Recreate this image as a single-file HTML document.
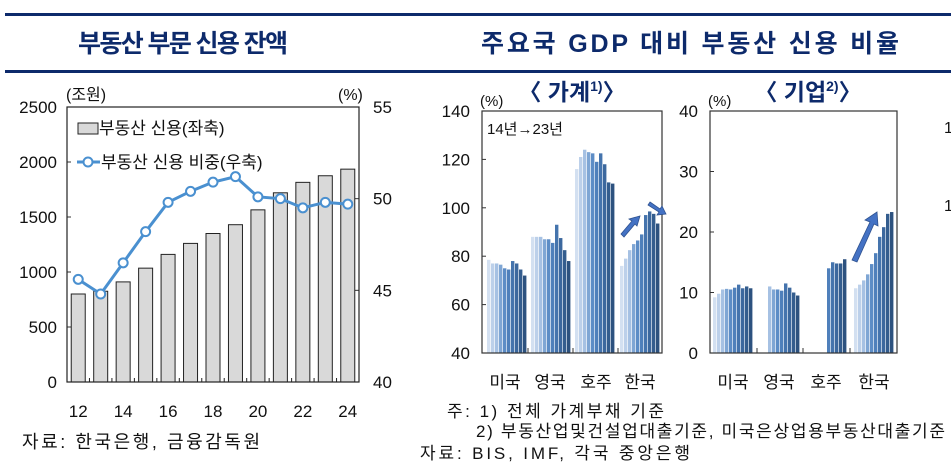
<!DOCTYPE html>
<html><head><meta charset="utf-8">
<style>
html,body{margin:0;padding:0;background:#fff;}
svg{display:block;font-family:"Liberation Sans","Noto Sans CJK KR",sans-serif;}
</style></head>
<body>
<svg id="chart" width="951" height="470" viewBox="0 0 951 470" xmlns="http://www.w3.org/2000/svg">
<rect x="5" y="13" width="946" height="3" fill="#0d2a6b"/>
<rect x="5" y="70" width="946" height="3" fill="#0d2a6b"/>
<text x="183" y="52" text-anchor="middle" font-size="25" font-weight="bold" fill="#0d2a6b" textLength="210">부동산 부문 신용 잔액</text>
<text x="690" y="52" text-anchor="middle" font-size="25" font-weight="bold" fill="#0d2a6b" textLength="418">주요국 GDP 대비 부동산 신용 비율</text>
<g id="left"></g>
<g id="mid"></g>
<g id="right"></g>
<text x="22" y="448" font-size="18" fill="#111" textLength="238">자료: 한국은행, 금융감독원</text>
<text x="447" y="417" font-size="17" fill="#111" textLength="217">주: 1) 전체 가계부채 기준</text>
<text x="476" y="437" font-size="17" fill="#111" textLength="469">2) 부동산업및건설업대출기준, 미국은상업용부동산대출기준</text>
<text x="420" y="459" font-size="17" fill="#111" textLength="270">자료: BIS, IMF, 각국 중앙은행</text>
</svg>
<script>
const years = [12,13,14,15,16,17,18,19,20,21,22,23,24];
const creditValues = [800,825,910,1035,1160,1260,1350,1430,1565,1720,1815,1875,1935];
const shareValues = [45.6,44.8,46.5,48.2,49.8,50.4,50.9,51.2,50.1,50.0,49.5,49.8,49.7];
const leftTicks = [0,500,1000,1500,2000,2500];
const rightTicks = [40,45,50,55];
const countries = ["미국","영국","호주","한국"];
const hhUS = [78.5,77,77,76.5,75,74.5,78,77,74.5,72];
const hhUK = [88,88,88,87,87,85.5,93,87.5,82.5,78];
const hhAU = [116,121,124,123,122.5,119,122.5,118,110.5,110];
const hhKR = [76,79,82.5,85,86.5,89,97,98.5,97.5,93.5];
const hhTicks = [40,60,80,100,120,140];
const coUS = [9.2,9.8,10.5,10.6,10.5,10.8,11.3,10.7,11,10.7];
const coUK = [null,null,11,10.5,10.5,10.3,11.5,10.8,10,9.5];
const coAU = [null,null,null,null,null,14,15,14.8,14.8,15.5];
const coKR = [10.7,11.3,12,13,14.7,16.5,19.2,20.8,23,23.3];
const coTicks = [0,10,20,30,40];

const NS="http://www.w3.org/2000/svg";
function mk(parent,tag,attrs,text){const e=document.createElementNS(NS,tag);for(const k in attrs)e.setAttribute(k,attrs[k]);if(text!==undefined)e.textContent=text;parent.appendChild(e);return e;}
const colors=["#d3e0f1","#bcd0ea","#a6c1e3","#7fa6d4","#5d8dc6","#4f80bb","#4574ad","#3c689e","#345d8e","#2d527f"];

// LEFT
(function(){
 const g=document.getElementById('left');
 const X0=67,X1=359,Y0=107,Y1=382;
 const yL=v=>Y1-(v/2500)*(Y1-Y0);
 const yR=v=>Y1-((v-40)/15)*(Y1-Y0);
 const step=(X1-X0)/years.length;
 const xc=i=>X0+step*(i+0.5);
 leftTicks.forEach(t=>{const el=mk(g,'text',{x:X0-10,y:yL(t)+6,'text-anchor':'end','font-size':17,fill:'#111'},t);
 
 
 mk(g,'line',{x1:X0,x2:X0+4,y1:yL(t),y2:yL(t),stroke:'#333'});});
 rightTicks.forEach(t=>{const el=mk(g,'text',{x:X1+14,y:yR(t)+6,'font-size':17,fill:'#111'},t);
 
 
 mk(g,'line',{x1:X1-4,x2:X1,y1:yR(t),y2:yR(t),stroke:'#333'});});
 creditValues.forEach((v,i)=>{const b=mk(g,'rect',{x:xc(i)-7,y:yL(v),width:14,height:Y1-yL(v),fill:'#d9d9d9',stroke:'#222','stroke-width':1});
 
 });
 mk(g,'rect',{x:X0,y:Y0,width:X1-X0,height:Y1-Y0,fill:'none',stroke:'#222','stroke-width':1.2});
 years.forEach((yv,i)=>{mk(g,'line',{x1:X0+step*i,x2:X0+step*i,y1:Y1,y2:Y1-4,stroke:'#222'});
 if(i%2===0){const t=mk(g,'text',{x:xc(i),y:Y1+35,'text-anchor':'middle','font-size':17,fill:'#111'},yv);
 
 }});
 const pts=shareValues.map((v,i)=>xc(i)+','+yR(v)).join(' ');
 const pl=mk(g,'polyline',{points:pts,fill:'none',stroke:'#4a90d0','stroke-width':3});
 
 
 shareValues.forEach((v,i)=>{const c=mk(g,'circle',{cx:xc(i),cy:yR(v),r:4.5,fill:'#fff',stroke:'#4a90d0','stroke-width':2});
 
 });
 mk(g,'text',{x:66,y:100,'font-size':16,fill:'#111'},'(조원)');
 mk(g,'text',{x:338,y:100,'font-size':16,fill:'#111'},'(%)');
 const l1=mk(g,'g',{});
 
 
 mk(l1,'rect',{x:78,y:123,width:20,height:11,fill:'#d9d9d9',stroke:'#222'});
 mk(l1,'text',{x:99,y:134,'font-size':17,fill:'#111'},'부동산 신용(좌축)');
 const l2=mk(g,'g',{});
 
 
 mk(l2,'line',{x1:77,x2:100,y1:162,y2:162,stroke:'#4a90d0','stroke-width':3});
 mk(l2,'circle',{cx:88,cy:162,r:4.5,fill:'#fff',stroke:'#4a90d0','stroke-width':2});
 mk(l2,'text',{x:101,y:168,'font-size':17,fill:'#111'},'부동산 신용 비중(우축)');
})();

function panel(id,X0,X1,Y0,Y1,vmin,vmax,ticks,series,seps,groupX,labelX,title,sup,titleX,sub){
 const g=document.getElementById(id);
 const y=v=>Y1-(v-vmin)/(vmax-vmin)*(Y1-Y0);
 ticks.forEach(t=>{const el=mk(g,'text',{x:X0-12,y:y(t)+6,'text-anchor':'end','font-size':17,fill:'#111'},t);
 
 
 mk(g,'line',{x1:X0,x2:X0+4,y1:y(t),y2:y(t),stroke:'#333'});});
 series.forEach((s,gi)=>{const gx=groupX[gi];s.forEach((v,i)=>{if(v===null)return;
  const b=mk(g,'rect',{x:gx+i*4,y:y(v),width:3.4,height:Y1-y(v),fill:colors[i]});
  
  });});
 mk(g,'rect',{x:X0,y:Y0,width:X1-X0,height:Y1-Y0,fill:'none',stroke:'#333','stroke-width':1.2});
 seps.forEach(s=>mk(g,'line',{x1:s,x2:s,y1:Y1,y2:Y1-5,stroke:'#333'}));
 countries.forEach((c,i)=>{const t=mk(g,'text',{x:labelX[i],y:388,'text-anchor':'middle','font-size':17,fill:'#111'},c);
 
 });
 mk(g,'text',{x:X0-2,y:Y0-5,'font-size':15,fill:'#111'},'(%)');
 const tt=mk(g,'text',{x:titleX,y:100,'text-anchor':'middle','font-size':23,'font-weight':'bold',fill:'#0d2a6b'});
 
 
 mk(tt,'tspan',{},'〈 '+title);
 mk(tt,'tspan',{'font-size':14,dy:-9},sup);
 mk(tt,'tspan',{dy:9},'〉');
 if(sub){mk(g,'text',{x:X0+5,y:Y0+23,'font-size':15,fill:'#111'},sub);}
 return {g,y};
}
const m=panel('mid',482,662,111,353,40,140,hhTicks,[hhUS,hhUK,hhAU,hhKR],[528,573,618],[487,531,575,620],[505,550,596,640],'가계','1)',572,'14년→23년');
mk(m.g,'polygon',{points:'621,234 632,221 629,219 640,216 637,226 635,224 624,237',fill:'#4472c4',stroke:'#2f528f','stroke-width':0.8});
mk(m.g,'polygon',{points:'650,202 660,209 662,206 666,214 657,215 659,212 648,205',fill:'#4472c4',stroke:'#2f528f','stroke-width':0.8});
const r=panel('right',710,897,111,353,0,40,coTicks,[coUS,coUK,coAU,coKR],[757,803,850],[713,760,807,854],[733,779,826,874],'기업','2)',808,null);
mk(r.g,'polygon',{points:'852,260 870,222 865,220 877,212 878,226 874,224 857,262',fill:'#4472c4',stroke:'#2f528f','stroke-width':0.8});
mk(document.getElementById('chart'),'text',{x:944,y:133,'font-size':16,fill:'#111'},'1');
mk(document.getElementById('chart'),'text',{x:944,y:211,'font-size':16,fill:'#111'},'1');
</script>
</body></html>
